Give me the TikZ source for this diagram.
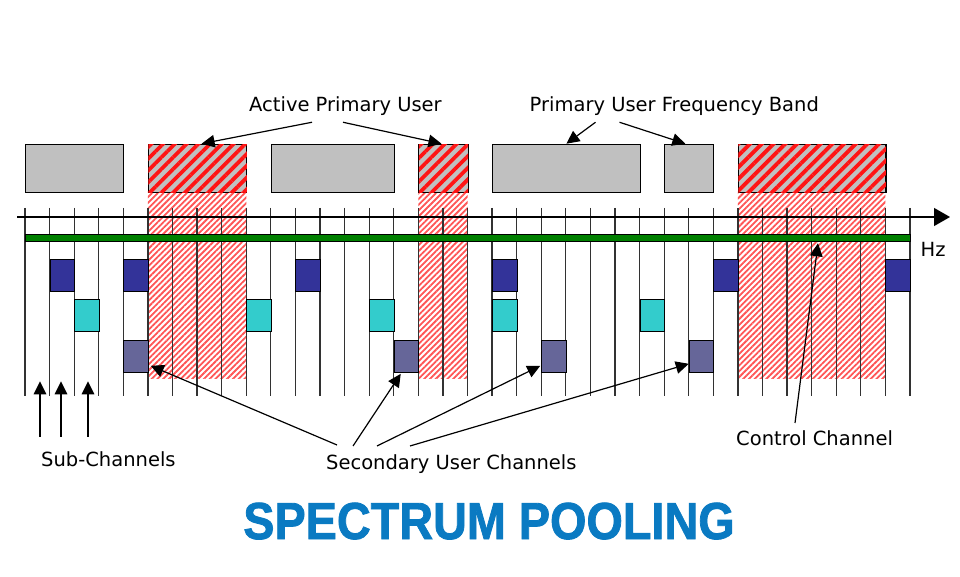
\documentclass[tikz,border=0pt]{standalone}
\usepackage{fontspec}
\setmainfont{DejaVu Sans}
\newfontfamily\titlefont[FakeBold=1.6]{Liberation Sans Bold}
\usetikzlibrary{arrows.meta,patterns.meta,calc}
\definecolor{boxgray}{RGB}{192,192,192}
\definecolor{hatchred}{RGB}{255,85,85}
\definecolor{stripered}{RGB}{255,20,20}
\definecolor{darkblue}{RGB}{51,51,153}
\definecolor{cyanbox}{RGB}{51,204,204}
\definecolor{slatebox}{RGB}{102,102,153}
\definecolor{barGreen}{RGB}{0,128,0}
\definecolor{titleblue}{RGB}{10,122,194}
\definecolor{linegray}{RGB}{50,50,50}
\begin{document}
\begin{tikzpicture}[x=1pt,y=-1pt,
  vline/.style={draw=linegray,line width=1.3pt},
  sq/.style={draw=black,line width=0.8pt,minimum width=24.5833pt,minimum height=32pt,inner sep=0pt,anchor=north west},
  pubox/.style={draw=black,line width=1.1pt,fill=boxgray,minimum height=48.3pt,inner sep=0pt,anchor=north west},
  activebox/.style={pubox,postaction={pattern={Lines[angle=45,distance=8.3pt,line width=3.8pt]},pattern color=stripered}},
  lbl/.style={inner sep=0pt,font=\fontsize{19.5}{23}\selectfont,anchor=base west},
  arr/.style={draw=black,line width=1.2pt,-{Triangle[length=13pt,width=12.5pt]}}]
\def\xo{25}
\def\sp{24.5833}
\fill[white] (0,0) rectangle (960,577);
\useasboundingbox (0,0) rectangle (960,577);
% hatched columns under active primary users
\foreach \a/\b in {5/9,16/18,29/35}
  \fill[pattern={Lines[angle=45,distance=4.1pt,line width=1.8pt]},pattern color=hatchred]
    ({\xo+\sp*\a},192) rectangle ({\xo+\sp*\b},378);
% sub-channel lines
\foreach \i in {0,...,36}
  \draw[vline] ({\xo+\sp*\i},208) -- ({\xo+\sp*\i},396);
% frequency axis
\coordinate (axs) at (17,217);
\coordinate (axe) at (950,217);
\draw[line width=1.3pt,-{Triangle[length=16pt,width=18pt]}] (axs) -- (axe);
% control channel bar
\node[draw=black,fill=barGreen,line width=0.8pt,minimum width=885pt,minimum height=7.5pt,inner sep=0pt,anchor=north west] (cc) at (25,234) {};
% secondary user squares
\foreach \i [count=\n] in {1,4,11,19,28,35}
  \node[sq,fill=darkblue] (d\n) at ({\xo+\sp*\i},258.5) {};
\foreach \i [count=\n] in {2,9,14,19,25}
  \node[sq,fill=cyanbox] (c\n) at ({\xo+\sp*\i},299) {};
\foreach \i [count=\n] in {4,15,21,27}
  \node[sq,fill=slatebox] (p\n) at ({\xo+\sp*\i},340) {};
% primary user bands
\node[pubox,minimum width={4*\sp pt}] (b1) at ({\xo+\sp*0},143.7) {};
\node[activebox,minimum width={4*\sp pt}] (b2) at ({\xo+\sp*5},143.7) {};
\node[pubox,minimum width={5*\sp pt}] (b3) at ({\xo+\sp*10},143.7) {};
\node[activebox,minimum width={2*\sp pt}] (b4) at ({\xo+\sp*16},143.7) {};
\node[pubox,minimum width={6*\sp pt}] (b5) at ({\xo+\sp*19},143.7) {};
\node[pubox,minimum width={2*\sp pt}] (b6) at ({\xo+\sp*26},143.7) {};
\node[activebox,minimum width={6*\sp pt}] (b7) at ({\xo+\sp*29},143.7) {};
% labels
\node[lbl] (apu) at (249,112) {Active Primary User};
\node[lbl] (pufb) at (529.5,112) {Primary User Frequency Band};
\node[lbl] (hz) at (920.5,256) {Hz};
\node[lbl] (subc) at (41,466) {Sub-Channels};
\node[lbl] (suc) at (326,469) {Secondary User Channels};
\node[lbl] (ctl) at (736,445) {Control Channel};
\node[anchor=base,inner sep=0pt,text=titleblue] (title) at (489,539)
  {\titlefont\fontsize{52}{60}\selectfont\scalebox{0.9}[1]{SPECTRUM POOLING}};
% arrows from top labels
\draw[arr] ($(apu.south west)+(63,6)$) -- ($(b2.north)+(4,0)$);
\draw[arr] ($(apu.south west)+(94,6)$) -- ($(b4.north)+(-2,0)$);
\draw[arr] ($(pufb.south west)+(66,6)$) -- (b5.north);
\draw[arr] ($(pufb.south west)+(90,6)$) -- ($(b6.north)+(-4,0)$);
% sub-channel arrows
\foreach \x in {40,61,88}
  \draw[arr] ($(subc.north west)+(\x-41,-14)$) -- ($(cc.south west)+(\x-25,139)$);
% secondary user arrows
\draw[arr] ($(suc.north west)+(11,-9)$) -- ($(p1.south east)+(2,-7)$);
\draw[arr] ($(suc.north west)+(27,-8)$) -- ($(p2.south west)+(7,1)$);
\draw[arr] ($(suc.north west)+(51,-8)$) -- ($(p3.south west)+(-1,-7)$);
\draw[arr] ($(suc.north west)+(84,-8)$) -- ($(p4.south west)+(0,-9)$);
% control channel arrow
\draw[arr] ($(ctl.north west)+(59,-7)$) -- ($(cc.south west)+(793,1)$);
\end{tikzpicture}
\end{document}
